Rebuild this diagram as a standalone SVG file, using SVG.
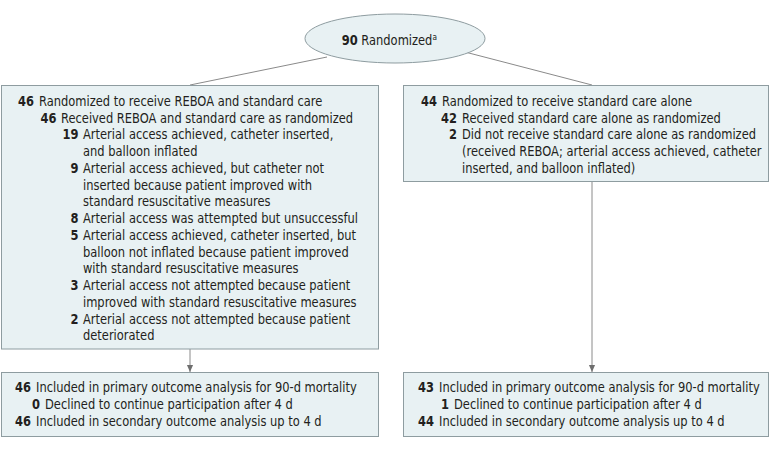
<svg xmlns="http://www.w3.org/2000/svg" width="783" height="449" viewBox="0 0 783 449">
<style>
.box{fill:#e8f1f3;stroke:#8e9ca0;stroke-width:1}
.t{font-family:"DejaVu Sans","Open Sans",sans-serif;font-size:14px;fill:#231f20}
.n{font-weight:bold;text-anchor:end}
.c{stroke:#8a8a8a;stroke-width:1;fill:none}
</style>
<defs>
<marker id="arr" markerWidth="7" markerHeight="8" refX="8" refY="3.5" orient="auto" markerUnits="userSpaceOnUse" viewBox="0 0 8 7">
<path d="M0,0 L8,3.5 L0,7 Z" fill="#6e6e6e"/>
</marker>
</defs>
<g id="connectors">
<line class="c" x1="327" y1="57" x2="190" y2="85"/>
<line class="c" x1="465" y1="52" x2="592" y2="85"/>
<line class="c" x1="190" y1="349" x2="190" y2="372" marker-end="url(#arr)"/>
<line class="c" x1="592" y1="181" x2="592" y2="372" marker-end="url(#arr)"/>
</g>
<g id="randomized">
<ellipse class="box" cx="395" cy="38.5" rx="90" ry="24.5"/>
<g class="t" transform="scale(0.82 1)">
<text x="416.7" y="45.5"><tspan font-weight="bold">90</tspan> Randomized<tspan dy="-5" font-size="9">a</tspan></text>
</g>
</g>
<g id="reboa">
<rect class="box" x="1.5" y="85.5" width="377" height="263.5"/>
<g class="t" transform="scale(0.82 1)">
<text class="n" x="41.46" y="106">46</text><text x="47.56" y="106">Randomized to receive REBOA and standard care</text>
<text class="n" x="68.9" y="122.75">46</text><text x="74.39" y="122.75">Received REBOA and standard care as randomized</text>
<text class="n" x="95.73" y="139.5">19</text><text x="101.22" y="139.5">Arterial access achieved, catheter inserted,</text>
<text x="101.22" y="156.25">and balloon inflated</text>
<text class="n" x="95.73" y="173">9</text><text x="101.22" y="173">Arterial access achieved, but catheter not</text>
<text x="101.22" y="189.75">inserted because patient improved with</text>
<text x="101.22" y="206.5">standard resuscitative measures</text>
<text class="n" x="95.73" y="223.25">8</text><text x="101.22" y="223.25">Arterial access was attempted but unsuccessful</text>
<text class="n" x="95.73" y="240">5</text><text x="101.22" y="240">Arterial access achieved, catheter inserted, but</text>
<text x="101.22" y="256.75">balloon not inflated because patient improved</text>
<text x="101.22" y="273.5">with standard resuscitative measures</text>
<text class="n" x="95.73" y="290.25">3</text><text x="101.22" y="290.25">Arterial access not attempted because patient</text>
<text x="101.22" y="307">improved with standard resuscitative measures</text>
<text class="n" x="95.73" y="323.75">2</text><text x="101.22" y="323.75">Arterial access not attempted because patient</text>
<text x="101.22" y="340.5">deteriorated</text>
</g>
</g>
<g id="standard">
<rect class="box" x="403.5" y="85.5" width="365" height="96"/>
<g class="t" transform="scale(0.82 1)">
<text class="n" x="532.93" y="106">44</text><text x="539.02" y="106">Randomized to receive standard care alone</text>
<text class="n" x="557.32" y="122.75">42</text><text x="563.41" y="122.75">Received standard care alone as randomized</text>
<text class="n" x="557.32" y="139.5">2</text><text x="563.41" y="139.5">Did not receive standard care alone as randomized</text>
<text x="563.41" y="156.25">(received REBOA; arterial access achieved, catheter</text>
<text x="563.41" y="173">inserted, and balloon inflated)</text>
</g>
</g>
<g id="reboa-analysis">
<rect class="box" x="1.5" y="372.5" width="377" height="64"/>
<g class="t" transform="scale(0.82 1)">
<text class="n" x="37.8" y="392">46</text><text x="43.9" y="392">Included in primary outcome analysis for 90-d mortality</text>
<text class="n" x="48.78" y="408.8">0</text><text x="54.88" y="408.8">Declined to continue participation after 4 d</text>
<text class="n" x="37.8" y="425.6">46</text><text x="43.9" y="425.6">Included in secondary outcome analysis up to 4 d</text>
</g>
</g>
<g id="standard-analysis">
<rect class="box" x="403.5" y="372.5" width="365" height="64"/>
<g class="t" transform="scale(0.82 1)">
<text class="n" x="529.27" y="392">43</text><text x="535.37" y="392">Included in primary outcome analysis for 90-d mortality</text>
<text class="n" x="547.56" y="408.8">1</text><text x="553.66" y="408.8">Declined to continue participation after 4 d</text>
<text class="n" x="529.27" y="425.6">44</text><text x="535.37" y="425.6">Included in secondary outcome analysis up to 4 d</text>
</g>
</g>
</svg>
